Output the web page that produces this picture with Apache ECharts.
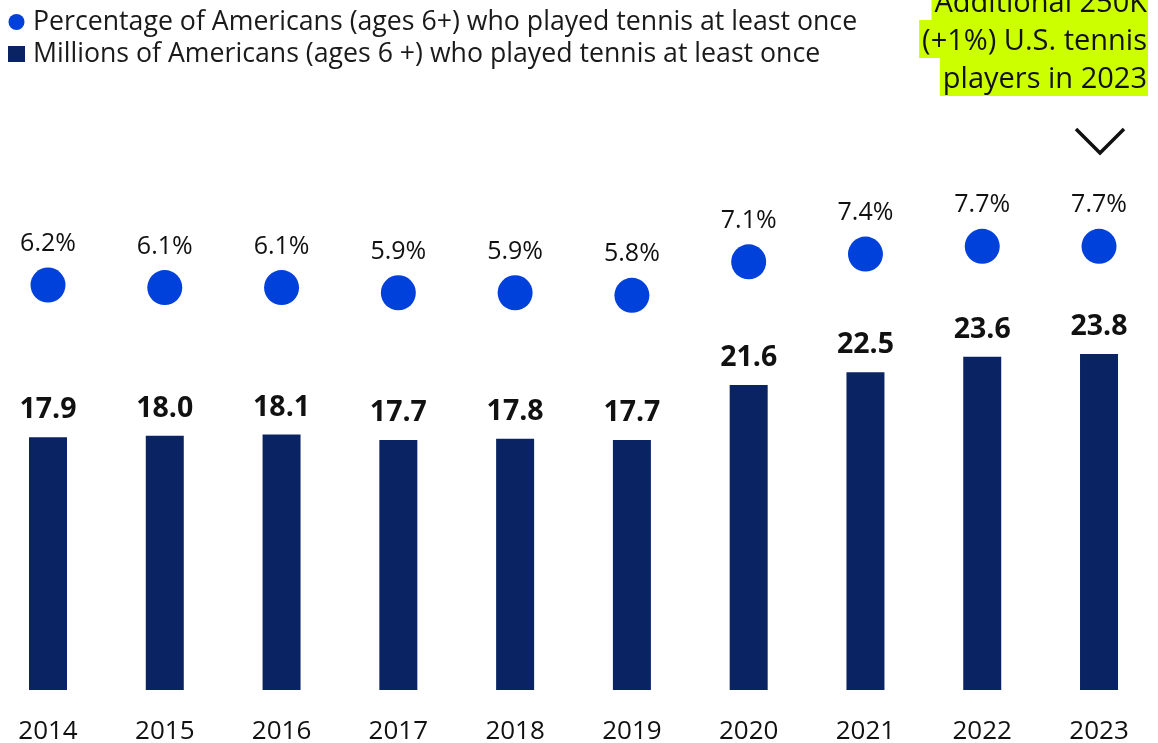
<!DOCTYPE html>
<html>
<head>
<meta charset="utf-8">
<script src="https://cdn.jsdelivr.net/npm/echarts@6/dist/echarts.min.js"></script>
<style>
html,body{margin:0;padding:0;background:#fff;}
#chart{width:1158px;height:743px;}
</style>
</head>
<body>
<div id="chart"></div>
<script>
const years = ['2014','2015','2016','2017','2018','2019','2020','2021','2022','2023'];
const millions = [17.9, 18.0, 18.1, 17.7, 17.8, 17.7, 21.6, 22.5, 23.6, 23.8];
const percent = [6.2, 6.1, 6.1, 5.9, 5.9, 5.8, 7.1, 7.4, 7.7, 7.7];
const seriesNames = [
  'Percentage of Americans (ages 6+) who played tennis at least once',
  'Millions of Americans (ages 6 +) who played tennis at least once'
];
const noteLines = ['Additional 250K', '(+1%) U.S. tennis', 'players in 2023'];

const FONT = '"Open Sans", "Noto Sans", sans-serif';
const BAR = '#0a2463';
const DOT = '#0041dc';
const HL = '#ccff00';

const chart = echarts.init(document.getElementById('chart'), null, {renderer: 'canvas'});

const gridLeft = -10.39, gridWidth = 1167.8;

const noteGraphics = noteLines.map((t, i) => ({
  type: 'text',
  right: 10,
  top: -18 + i * 38,
  z: 10,
  style: {
    text: t,
    font: '29px ' + FONT,
    fill: '#111',
    backgroundColor: HL,
    padding: [5, 1, 0, 3],
    lineHeight: 33
  }
}));

chart.setOption({
  animation: false,
  textStyle: {fontFamily: FONT},
  legend: {
    orient: 'vertical',
    left: 8,
    top: 6,
    padding: 0,
    itemWidth: 17,
    itemHeight: 16,
    itemGap: 0,
    selectedMode: false,
    textStyle: {fontSize: 26.7, color: '#1a1a1a', lineHeight: 32, padding: [0, 0, 0, 3], fontFamily: FONT},
    data: [
      {name: seriesNames[0], icon: 'circle'},
      {name: seriesNames[1], icon: 'rect'}
    ]
  },
  grid: [
    {left: gridLeft, width: gridWidth, top: 266.4, bottom: 53, outerBoundsMode: 'none'},
    {left: gridLeft, width: gridWidth, top: 238.6, height: 77.4, outerBoundsMode: 'none'}
  ],
  xAxis: [
    {
      type: 'category', data: years, gridIndex: 0,
      axisLine: {show: false}, axisTick: {show: false},
      axisLabel: {fontSize: 26, color: '#111', margin: 26.5, lineHeight: 30, fontFamily: FONT}
    },
    {
      type: 'category', data: years, gridIndex: 1, show: false
    }
  ],
  yAxis: [
    {type: 'value', gridIndex: 0, min: 0, max: 30, show: false, splitLine: {show: false}},
    {type: 'value', gridIndex: 1, min: 5, max: 8, show: false, splitLine: {show: false}}
  ],
  series: [
    {
      name: seriesNames[1],
      type: 'bar',
      xAxisIndex: 0, yAxisIndex: 0,
      data: millions,
      barWidth: 38,
      itemStyle: {color: BAR},
      label: {
        show: true, position: 'top', distance: 12,
        fontSize: 28.5, fontWeight: 'bold', color: '#111', lineHeight: 30,
        fontFamily: FONT,
        formatter: p => p.value.toFixed(1)
      }
    },
    {
      name: seriesNames[0],
      type: 'scatter',
      xAxisIndex: 1, yAxisIndex: 1,
      data: percent,
      symbol: 'circle',
      symbolSize: 35,
      clip: false,
      itemStyle: {color: DOT, opacity: 1},
      label: {
        show: true, position: 'top', distance: 9.5,
        fontSize: 25, color: '#111', lineHeight: 28,
        fontFamily: FONT,
        formatter: p => p.value.toFixed(1) + '%'
      }
    }
  ],
  graphic: noteGraphics.concat([
    {
      type: 'polyline',
      z: 10,
      shape: {points: [[1076, 129], [1100, 153], [1124, 129]]},
      style: {stroke: '#111', lineWidth: 3.5, fill: null}
    }
  ])
});
</script>
</body>
</html>
